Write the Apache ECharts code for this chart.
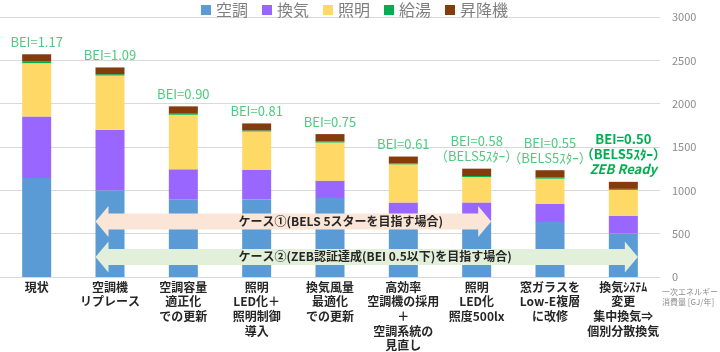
<!DOCTYPE html>
<html>
<head>
<meta charset="utf-8">
<script src="https://cdn.jsdelivr.net/npm/echarts@6/dist/echarts.min.js"></script>
<style>
  html, body { margin: 0; padding: 0; background: #fff; }
  #main { width: 720px; height: 352px; }
</style>
</head>
<body>
<div id="main"></div>
<script>
var categories = [
  '現状',
  '空調機\nリプレース',
  '空調容量\n適正化\nでの更新',
  '照明\nLED化＋\n照明制御\n導入',
  '換気風量\n最適化\nでの更新',
  '高効率\n空調機の採用\n＋\n空調系統の\n見直し',
  '照明\nLED化\n照度500lx',
  '窓ガラスを\nLow-E複層\nに改修',
  '換気ｼｽﾃﾑ\n変更\n集中換気⇒\n個別分散換気'
];
var seriesNames = ['空調', '換気', '照明', '給湯', '昇降機'];
var seriesColors = ['#5b9bd5', '#9966ff', '#ffd966', '#00b050', '#843c0c'];

// GJ/年
var airCon = [1143, 1000, 892, 895, 911, 655, 655, 634, 502];
var vent = [710, 700, 351, 340, 201, 205, 205, 208, 205];
var light = [614, 625, 629, 444, 440, 440, 293, 293, 298];
var hotWater = [18, 15, 12, 12, 12, 12, 12, 12, 12];
var lift = [85, 78, 85, 81, 85, 78, 85, 85, 81];

var beiLabels = ['BEI=1.17', 'BEI=1.09', 'BEI=0.90', 'BEI=0.81', 'BEI=0.75', 'BEI=0.61', 'BEI=0.58', 'BEI=0.55', 'BEI=0.50'];
var subLabels = ['', '', '', '', '', '', '（BELS5ｽﾀｰ）', '（BELS5ｽﾀｰ）', '（BELS5ｽﾀｰ）'];
var zebIndex = 8;

var yTicks = {min: 0, max: 3000, interval: 500};
var axisName = '一次エネルギー\n消費量 [GJ/年]';

// arrows: [label, from index, to index, y value]
var case1 = ['ケース①(BELS 5スターを目指す場合)', 1, 6, 640];
var case2 = ['ケース②(ZEB認証達成(BEI 0.5以下)を目指す場合)', 1, 8, 232];

var FONT = '"Noto Sans CJK JP", "Noto Sans", sans-serif';
var BAR_W = 29;

var chart = echarts.init(document.getElementById('main'));

var allData = [airCon, vent, light, hotWater, lift];
var series = [];
for (var i = 0; i < seriesNames.length; i++) {
  var s = {
    name: seriesNames[i],
    type: 'bar',
    stack: 'total',
    barWidth: BAR_W,
    itemStyle: {color: seriesColors[i]},
    data: allData[i],
    animation: false
  };
  if (i === seriesNames.length - 1) {
    s.label = {
      show: true,
      position: 'top',
      distance: 5,
      formatter: function (p) {
        var idx = p.dataIndex;
        if (idx === zebIndex) {
          return '{b|' + beiLabels[idx] + '}\n{b|' + subLabels[idx] + '}\n{c|ZEB Ready}';
        }
        var t = '{a|' + beiLabels[idx] + '}';
        if (subLabels[idx]) t += '\n{a|' + subLabels[idx] + '}';
        return t;
      },
      rich: {
        a: {color: '#4ccb7f', fontSize: 13, lineHeight: 15, fontFamily: FONT},
        b: {color: '#00b050', fontSize: 13, lineHeight: 15, fontWeight: 'bold', fontFamily: FONT},
        c: {color: '#00b050', fontSize: 13, lineHeight: 15, fontWeight: 'bold', fontStyle: 'italic', fontFamily: FONT}
      }
    };
  }
  series.push(s);
}

chart.setOption({
  animation: false,
  textStyle: {fontFamily: FONT},
  legend: {
    left: 196,
    top: -3,
    icon: 'rect',
    itemWidth: 10,
    itemHeight: 10,
    itemGap: 14,
    textStyle: {fontSize: 16, color: '#7f7f7f', fontFamily: FONT},
    data: seriesNames
  },
  grid: {left: 0, right: 60, top: 17, bottom: 75, containLabel: false, outerBoundsMode: 'none'},
  xAxis: {
    type: 'category',
    data: categories,
    axisLine: {lineStyle: {color: '#d9d9d9'}},
    axisTick: {show: false},
    axisLabel: {
      interval: 0,
      margin: 3,
      fontSize: 12,
      lineHeight: 14.6,
      fontWeight: 'bold',
      color: '#262626',
      fontFamily: FONT
    }
  },
  yAxis: {
    type: 'value',
    position: 'right',
    min: yTicks.min,
    max: yTicks.max,
    interval: yTicks.interval,
    name: axisName,
    nameLocation: 'start',
    nameGap: 10,
    nameMoveOverlap: false,
    nameTextStyle: {fontSize: 8, lineHeight: 10, color: '#8c8c8c', align: 'left', verticalAlign: 'top', padding: [0, 0, 0, 2], fontFamily: FONT},
    axisLine: {show: false},
    axisTick: {show: false},
    axisLabel: {
      fontSize: 11,
      color: '#8c8c8c',
      margin: 12,
      fontFamily: FONT,
      formatter: function (v) { return String(v); }
    },
    splitLine: {lineStyle: {color: '#d9d9d9'}}
  },
  series: series
});

function arrowShape(c, fill) {
  var xl = chart.convertToPixel({xAxisIndex: 0}, c[1]) - BAR_W / 2;
  var xr = chart.convertToPixel({xAxisIndex: 0}, c[2]) + BAR_W / 2;
  var yc = chart.convertToPixel({yAxisIndex: 0}, c[3]);
  var H = 15.5, B = 8, L = 13;
  return [{
    type: 'polygon',
    z: 100,
    shape: {points: [
      [xl, yc], [xl + L, yc - H], [xl + L, yc - B], [xr - L, yc - B], [xr - L, yc - H],
      [xr, yc], [xr - L, yc + H], [xr - L, yc + B], [xl + L, yc + B], [xl + L, yc + H]
    ]},
    style: {fill: fill}
  }, {
    type: 'text',
    z: 101,
    x: xl + 143,
    y: yc,
    style: {
      text: c[0],
      fill: '#262626',
      font: 'bold 12px ' + FONT,
      textAlign: 'left',
      textVerticalAlign: 'middle'
    }
  }];
}

chart.setOption({
  graphic: arrowShape(case1, '#fbe5d6').concat(arrowShape(case2, '#e2efda'))
});
</script>
</body>
</html>
